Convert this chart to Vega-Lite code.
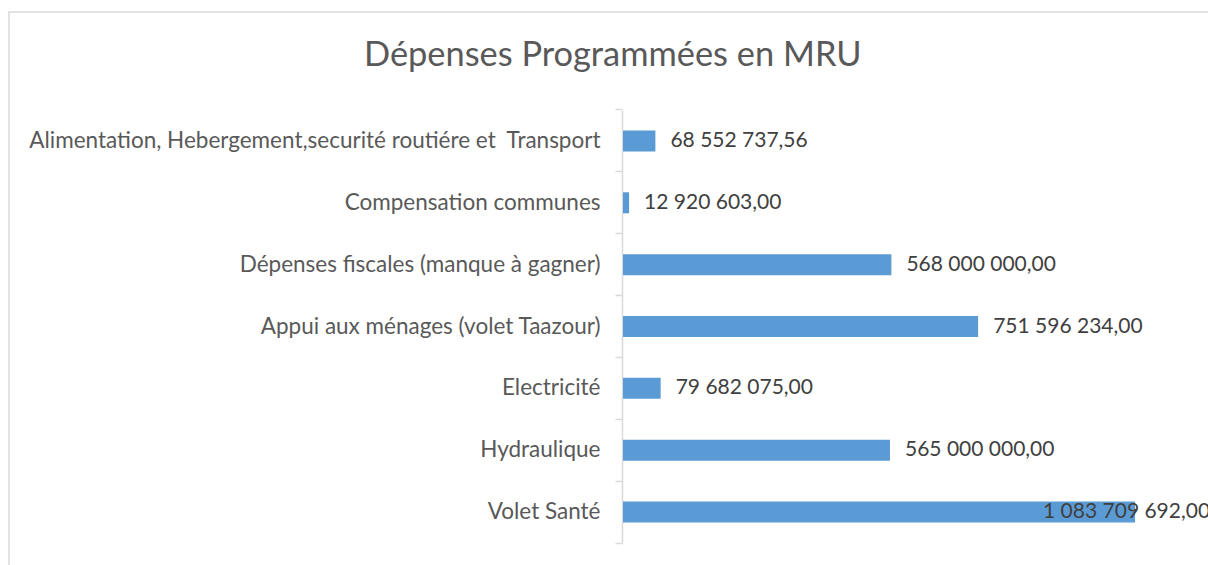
{
  "$schema": "https://vega.github.io/schema/vega-lite/v6.json",
  "autosize": "none",
  "width": 1204,
  "height": 560,
  "padding": {"left": 9, "top": 12, "right": -5, "bottom": -7},
  "background": "white",
  "config": {
    "view": {"stroke": "#d9d9d9", "strokeWidth": 1.5},
    "font": "Lato"
  },
  "title": {
    "text": "Dépenses Programmées en MRU",
    "font": "Lato",
    "fontSize": 34.4,
    "fontWeight": "normal",
    "color": "#595959",
    "anchor": "start",
    "dx": 355,
    "baseline": "alphabetic",
    "dy": 92
  },
  "data": {
    "values": [
      {"categorie": "Alimentation, Hebergement,securité routiére et\u00a0 Transport", "montant": 68552737.56, "libelle": "68 552 737,56"},
      {"categorie": "Compensation communes", "montant": 12920603.00, "libelle": "12 920 603,00"},
      {"categorie": "Dépenses fiscales (manque à gagner)", "montant": 568000000.00, "libelle": "568 000 000,00"},
      {"categorie": "Appui aux ménages (volet Taazour)", "montant": 751596234.00, "libelle": "751 596 234,00"},
      {"categorie": "Electricité", "montant": 79682075.00, "libelle": "79 682 075,00"},
      {"categorie": "Hydraulique", "montant": 565000000.00, "libelle": "565 000 000,00"},
      {"categorie": "Volet Santé", "montant": 1083709692.00, "libelle": "1 083 709 692,00"}
    ]
  },
  "encoding": {
    "y": {
      "field": "categorie",
      "type": "nominal",
      "sort": null,
      "scale": {"range": [98, 531], "paddingInner": 0.66, "paddingOuter": 0.33}
    },
    "x": {
      "field": "montant",
      "type": "quantitative",
      "scale": {"domain": [0, 1200000000], "range": [614, 1181], "nice": false, "zero": true},
      "axis": null
    }
  },
  "layer": [
    {
      "mark": {"type": "bar", "color": "#5b9bd5"},
      "encoding": {
        "y": {
          "field": "categorie",
          "type": "nominal",
          "sort": null,
          "axis": {
            "orient": "left",
            "offset": -613,
            "title": null,
            "domain": false,
            "ticks": false,
            "grid": false,
            "labelPadding": 22,
            "labelFont": "Lato",
            "labelFontSize": 22.5,
            "labelColor": "#595959",
            "labelLimit": 700
          }
        }
      }
    },
    {
      "transform": [{"filter": "datum.montant < 1000000000"}],
      "mark": {"type": "text", "align": "left", "baseline": "middle", "dx": 15, "font": "Lato", "fontSize": 21, "color": "#404040"},
      "encoding": {
        "text": {"field": "libelle", "type": "nominal"},
        "y": {
          "field": "categorie",
          "type": "nominal",
          "sort": null,
          "axis": {
            "orient": "left",
            "offset": -613,
            "title": null,
            "labels": false,
            "bandPosition": -0.9706,
            "domain": true,
            "domainColor": "#d9d9d9",
            "domainWidth": 1.5,
            "ticks": true,
            "tickSize": 7,
            "tickColor": "#d9d9d9",
            "tickWidth": 1.5,
            "grid": false
          }
        }
      }
    },
    {
      "transform": [{"filter": "datum.montant >= 1000000000"}],
      "mark": {"type": "text", "align": "left", "baseline": "middle", "dx": -92, "font": "Lato", "fontSize": 21, "color": "#404040"},
      "encoding": {
        "text": {"field": "libelle", "type": "nominal"},
        "y": {
          "field": "categorie",
          "type": "nominal",
          "sort": null,
          "axis": {
            "orient": "left",
            "offset": -613,
            "title": null,
            "labels": false,
            "bandPosition": 1.9706,
            "values": ["Volet Santé"],
            "domain": false,
            "ticks": true,
            "tickSize": 7,
            "tickColor": "#d9d9d9",
            "tickWidth": 1.5,
            "grid": false
          }
        }
      }
    }
  ],
  "resolve": {"axis": {"y": "independent"}}
}
